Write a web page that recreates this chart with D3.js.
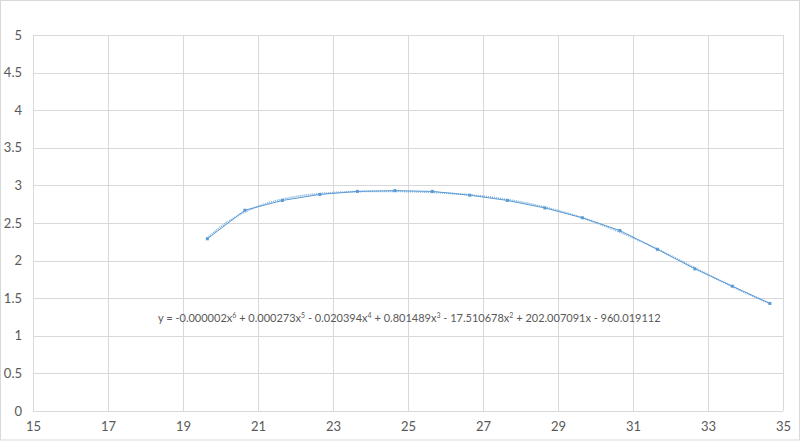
<!DOCTYPE html>
<html>
<head>
<meta charset="utf-8">
<script src="https://cdn.jsdelivr.net/npm/d3@7"></script>
<style>
body { margin: 0; background: #fff; }
text { font-family: Lato, "Open Sans", sans-serif; fill: #595959; }
</style>
</head>
<body>
<div id="main"></div>
<script>
var xValues = [19.65, 20.65, 21.65, 22.65, 23.65, 24.65, 25.65, 26.65, 27.65, 28.65, 29.65, 30.65, 31.65, 32.65, 33.65, 34.65];
var yValues = [2.29, 2.67, 2.80, 2.88, 2.92, 2.93, 2.92, 2.87, 2.80, 2.70, 2.57, 2.40, 2.15, 1.89, 1.66, 1.43];
var xTicks = [15, 17, 19, 21, 23, 25, 27, 29, 31, 33, 35];
var yTicks = [0, 0.5, 1, 1.5, 2, 2.5, 3, 3.5, 4, 4.5, 5];
var eqParts = [
  ["y = -0.000002x", "6"], [" + 0.000273x", "5"], [" - 0.020394x", "4"],
  [" + 0.801489x", "3"], [" - 17.510678x", "2"], [" + 202.007091x - 960.019112", ""]
];

var W = 800, H = 441;
var margin = {top: 35, right: 17, bottom: 30, left: 33};
var width = W - margin.left - margin.right,
    height = H - margin.top - margin.bottom;
var blue = "#5b9bd5";

var svg = d3.select("#main").append("svg")
    .attr("width", W).attr("height", H);

svg.append("rect").attr("x", 0.5).attr("y", 0.5)
    .attr("width", W - 1).attr("height", H - 1.5)
    .attr("fill", "#fff").attr("stroke", "#d9d9d9");

var g = svg.append("g").attr("transform", "translate(" + margin.left + "," + margin.top + ")");

var x = d3.scaleLinear().domain([15, 35]).range([0, width]);
var y = d3.scaleLinear().domain([0, 5]).range([height, 0]);

// grid
g.append("g").selectAll("line").data(yTicks).enter().append("line")
    .attr("x1", 0).attr("x2", width)
    .attr("y1", function(d){ return Math.round(y(d)) + 0.5; })
    .attr("y2", function(d){ return Math.round(y(d)) + 0.5; })
    .attr("stroke", "#d9d9d9");
g.append("g").selectAll("line").data(xTicks).enter().append("line")
    .attr("y1", 0).attr("y2", height)
    .attr("x1", function(d){ return Math.round(x(d)) + 0.5; })
    .attr("x2", function(d){ return Math.round(x(d)) + 0.5; })
    .attr("stroke", "#d9d9d9");

// axis labels
var yAxis = d3.axisLeft(y).tickValues(yTicks).tickSize(0).tickPadding(11).tickFormat(d3.format("~g"));
var xAxis = d3.axisBottom(x).tickValues(xTicks).tickSize(0).tickPadding(11);
g.append("g").call(yAxis).call(function(s){ s.select(".domain").remove(); })
  .selectAll("text").style("font-size", "13px").attr("fill", "#595959");
g.append("g").attr("transform", "translate(0," + height + ")").call(xAxis)
  .call(function(s){ s.select(".domain").remove(); })
  .selectAll("text").style("font-size", "13px").attr("fill", "#595959");

// 6th order least squares trend line, computed from the data
function polyfit(xs, ys, n) {
  var c = d3.mean(xs), s = (d3.max(xs) - d3.min(xs)) / 2;
  var A = [], b = [];
  for (var i = 0; i <= n; i++) {
    A.push([]); b.push(0);
    for (var j = 0; j <= n; j++) A[i].push(0);
  }
  xs.forEach(function(xv, k) {
    var t = (xv - c) / s;
    for (var i = 0; i <= n; i++) {
      b[i] += ys[k] * Math.pow(t, i);
      for (var j = 0; j <= n; j++) A[i][j] += Math.pow(t, i + j);
    }
  });
  for (var p = 0; p <= n; p++) {
    var m = p;
    for (var r = p + 1; r <= n; r++) if (Math.abs(A[r][p]) > Math.abs(A[m][p])) m = r;
    var tmp = A[p]; A[p] = A[m]; A[m] = tmp;
    var tb = b[p]; b[p] = b[m]; b[m] = tb;
    for (var r = p + 1; r <= n; r++) {
      var f = A[r][p] / A[p][p];
      for (var j = p; j <= n; j++) A[r][j] -= f * A[p][j];
      b[r] -= f * b[p];
    }
  }
  var co = [];
  for (var i = n; i >= 0; i--) {
    var sum = b[i];
    for (var j = i + 1; j <= n; j++) sum -= A[i][j] * co[j];
    co[i] = sum / A[i][i];
  }
  return function(xv) {
    var t = (xv - c) / s, v = 0;
    for (var i = n; i >= 0; i--) v = v * t + co[i];
    return v;
  };
}
var trend = polyfit(xValues, yValues, 6);
var trendPts = d3.range(0, 201).map(function(i){
  var xv = xValues[0] + (xValues[xValues.length - 1] - xValues[0]) * i / 200;
  return [xv, trend(xv)];
});

var pts = xValues.map(function(d, i){ return [d, yValues[i]]; });
var line = d3.line().x(function(d){ return x(d[0]); }).y(function(d){ return y(d[1]); });

g.append("path").datum(pts).attr("d", line)
    .attr("fill", "none").attr("stroke", blue).attr("stroke-width", 1);
g.append("path").datum(trendPts).attr("d", line)
    .attr("fill", "none").attr("stroke", blue).attr("stroke-width", 1.75)
    .attr("stroke-dasharray", "1,1").attr("opacity", 0.8);

g.selectAll(".mark").data(pts).enter().append("rect").attr("class", "mark")
    .attr("x", function(d){ return x(d[0]) - 1.5; })
    .attr("y", function(d){ return y(d[1]) - 1.5; })
    .attr("width", 3).attr("height", 3)
    .attr("fill", blue);

// equation label
var eq = svg.append("text").attr("x", 158).attr("y", 322).style("font-size", "11px");
var shift = 0;
eqParts.forEach(function(p){
  eq.append("tspan").attr("dy", shift).text(p[0]);
  shift = 0;
  if (p[1]) {
    eq.append("tspan").attr("dy", -4).style("font-size", "7px").text(p[1]);
    shift = 4;
  }
});
</script>
</body>
</html>
